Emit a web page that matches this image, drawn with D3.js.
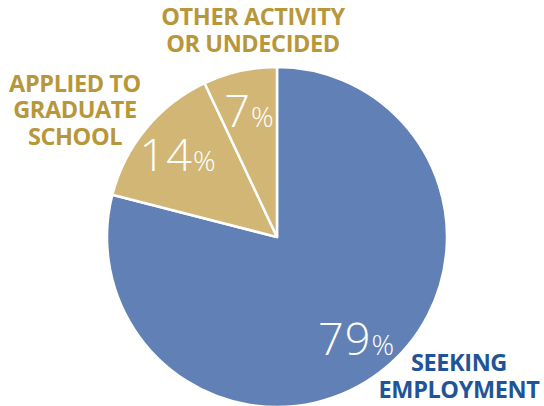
<!DOCTYPE html>
<html><head><meta charset="utf-8">
<script src="https://cdn.jsdelivr.net/npm/d3@7"></script>
<style>html,body{margin:0;padding:0;background:#fff;}svg{display:block;}</style>
</head><body>
<svg id="c" width="544" height="406"></svg>
<script>
const categories = ["SEEKING EMPLOYMENT", "APPLIED TO GRADUATE SCHOOL", "OTHER ACTIVITY OR UNDECIDED"];
const values = [79, 14, 7];
const sliceColors = ["#6181b6", "#d2b676", "#d2b676"];
const labelColors = ["#1f5598", "#b8963a", "#b8963a"];
const labelLines = [["SEEKING", "EMPLOYMENT"], ["APPLIED TO", "GRADUATE", "SCHOOL"], ["OTHER ACTIVITY", "OR UNDECIDED"]];

const svg = d3.select("#c");
const cx = 277, cy = 237, R = 170;
const g = svg.append("g").attr("transform", `translate(${cx},${cy})`);
const pie = d3.pie().sort(null).value(d => d)(values);
const arc = d3.arc().innerRadius(0).outerRadius(R);
g.selectAll("path").data(pie).join("path")
  .attr("d", arc).attr("fill", (d, i) => sliceColors[i])
  .attr("stroke", "#fff").attr("stroke-width", 2.5).attr("stroke-linejoin", "round");

const labelArc = d3.arc().innerRadius(129).outerRadius(129);
const pt = g.selectAll("text.pct").data(pie).join("text").attr("class", "pct")
  .attr("transform", d => { const c = labelArc.centroid(d); return `translate(${c[0]},${c[1]})`; })
  .attr("text-anchor", "middle").attr("dy", "0.36em")
  .attr("fill", "#fff").attr("font-family", "'Open Sans'").attr("font-weight", 300)
  .attr("font-size", 45).attr("letter-spacing", 1);
pt.append("tspan").text(d => d.data);
pt.append("tspan").attr("font-size", 28).attr("letter-spacing", 0).text("%");

const labelPos = [[459, 371], [75, 91.5], [253, 25]];
labelLines.forEach((lines, i) => {
  lines.forEach((l, j) => svg.append("text").attr("text-anchor", "middle")
    .attr("fill", labelColors[i]).attr("font-family", "'Open Sans'").attr("font-weight", 700)
    .attr("font-size", 23.5).attr("letter-spacing", -0.4)
    .attr("x", labelPos[i][0]).attr("y", labelPos[i][1] + j * 26.5).text(l));
});
</script>
</body></html>
